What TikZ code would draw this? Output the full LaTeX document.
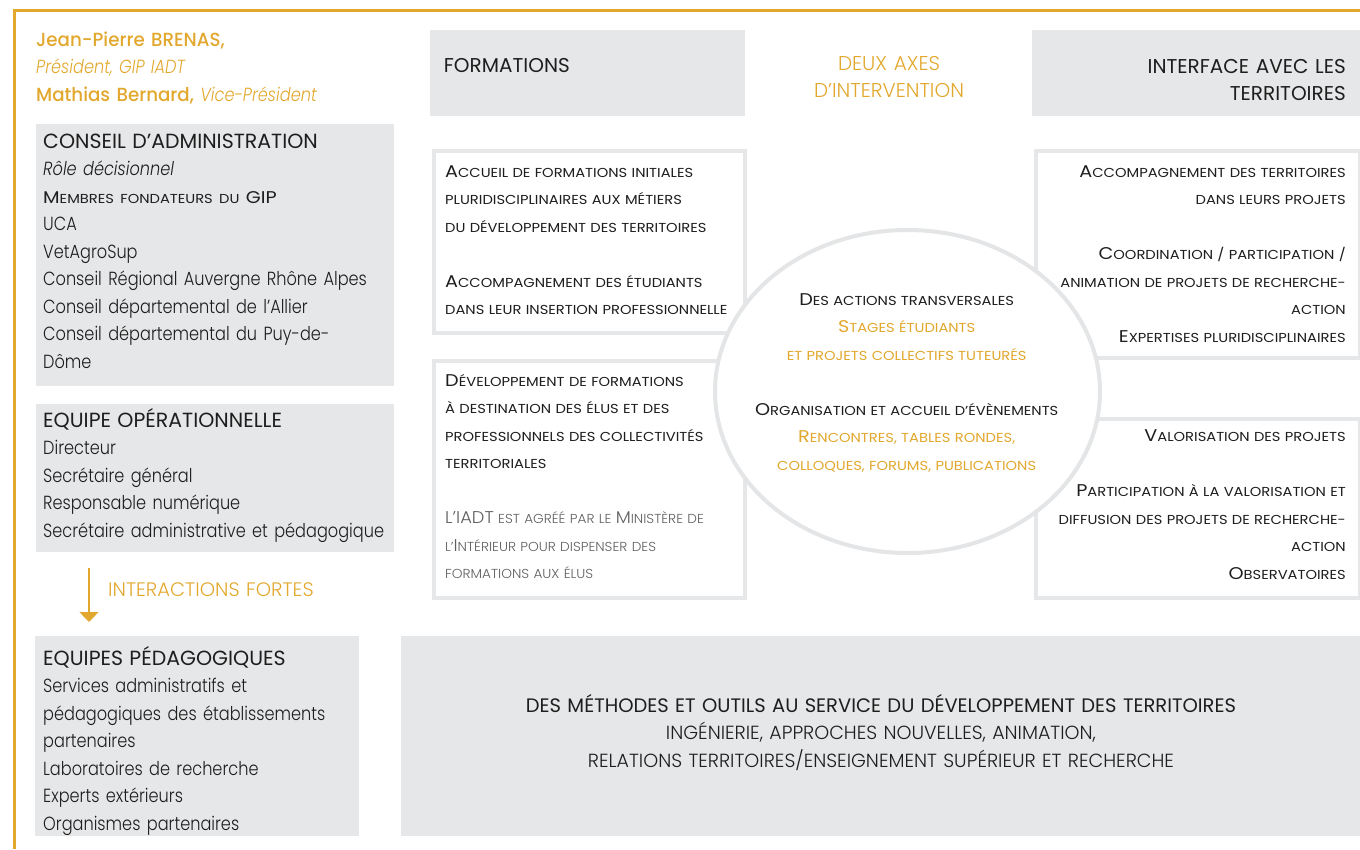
\documentclass[tikz,border=0pt]{standalone}
\usepackage{fontspec}
\setmainfont{Poppins}[UprightFont=* Light, ItalicFont=* Light Italic, BoldFont=* Medium, FakeStretch=0.85]
\newfontfamily\regfont{Poppins}[FakeStretch=1.0]
\newfontfamily\scfont{Poppins}[FakeStretch=1.13]
\newfontfamily\medfont{Poppins}[UprightFont=* Medium, FakeStretch=0.96]
\newfontfamily\lightcaps{Poppins}[UprightFont=* Light, FakeStretch=1.0]
\newfontfamily\lightsc{Poppins}[UprightFont=* Light, FakeStretch=1.05]
\usepackage{tikz}
\usetikzlibrary{shapes.geometric,arrows.meta}

\definecolor{gold}{RGB}{226,168,46}
\definecolor{boxgrey}{RGB}{230,231,232}
\definecolor{ringgrey}{RGB}{228,229,230}
\definecolor{ink}{RGB}{30,30,30}
\definecolor{softgrey}{RGB}{95,95,95}

\newcommand\bodysize{\fontsize{19}{27.5}\selectfont}
\newcommand\titlesize{\fontsize{20.5}{27.5}\selectfont}
\newcommand\headsize{\fontsize{20}{27.5}\selectfont}
\newcommand\scbig{\fontsize{17}{27.5}\selectfont}
\newcommand\scsmall{\fontsize{13}{27.5}\selectfont}
% fake small caps
\newcommand\sca[2]{{\scbig #1}{\scsmall\MakeUppercase{#2}}}
\newcommand\scl[1]{{\scsmall\MakeUppercase{#1}}}

\begin{document}
\begin{tikzpicture}[x=1pt,y=-1pt,
  greybox/.style={fill=boxgrey,draw=none,inner sep=0pt,anchor=north west},
  framebox/.style={draw=boxgrey,line width=4pt,fill=white,inner sep=0pt,anchor=north west},
  lefttext/.style={anchor=base west,inner sep=0pt,align=left,text width=500pt},
  righttext/.style={anchor=base east,inner sep=0pt,align=right,text width=500pt},
  midtext/.style={anchor=base,inner sep=0pt,align=center,text width=800pt}]
\useasboundingbox (0,0) rectangle (1360,849);
\draw[gold,line width=3pt] (1360,10.5) -| (14.7,849);

% left column
\node[lefttext,font=\bodysize,text=gold] (president) at (36,46)
  {{\medfont Jean-Pierre BRENAS,}\\
   \textit{Président, GIP IADT}\\
   {\medfont Mathias Bernard,} \textit{Vice-Président}};

\node[greybox,minimum width=358pt,minimum height=262pt] (conseil) at (36,124) {};
\node[greybox,minimum width=358pt,minimum height=148pt] (equipe) at (36,404) {};
\node[greybox,minimum width=324pt,minimum height=200pt] (pedago) at (35,636) {};

\node[lefttext,font=\bodysize,text=ink] (conseiltxt) at (43,148)
  {{\regfont\titlesize CONSEIL D’ADMINISTRATION}\\
   \textit{Rôle décisionnel}\\
   {\scfont\sca{M}{embres fondateurs du }{\scbig GIP}}\\
   UCA\\
   VetAgroSup\\
   Conseil Régional Auvergne Rhône Alpes\\
   Conseil départemental de l’Allier\\
   Conseil départemental du Puy-de-\\
   Dôme};

\node[lefttext,font=\bodysize,text=ink] (equipetxt) at (43,427)
  {{\regfont\titlesize EQUIPE OPÉRATIONNELLE}\\
   Directeur\\
   Secrétaire général\\
   Responsable numérique\\
   Secrétaire administrative et pédagogique};

\coordinate (linktop) at (89,568);
\coordinate (linkend) at (89,622);
\draw[gold,line width=1.2pt,-{Triangle[length=10pt,width=19pt]}] (linktop) -- (linkend);
\node[lefttext,font=\lightcaps\fontsize{19.5}{27.5}\selectfont,text=gold] (linklabel) at (108,596) {INTERACTIONS FORTES};

\node[lefttext,font=\bodysize,text=ink] (pedagotxt) at (43,665)
  {{\regfont\titlesize EQUIPES PÉDAGOGIQUES}\\
   Services administratifs et\\
   pédagogiques des établissements\\
   partenaires\\
   Laboratoires de recherche\\
   Experts extérieurs\\
   Organismes partenaires};

% headers
\node[greybox,minimum width=315pt,minimum height=86pt] (formhead) at (430,30) {};
\node[greybox,minimum width=328pt,minimum height=86pt] (terrhead) at (1032,30) {};
\node[lefttext,font=\regfont\headsize,text=ink] (formtitle) at (443.7,72.7) {FORMATIONS};
\node[midtext,font=\lightcaps\headsize,text=gold] (axestitle) at (889,70) {DEUX AXES\\ D’INTERVENTION};
\node[righttext,font=\regfont\headsize,text=ink] (terrtitle) at (1346,73.3) {INTERFACE AVEC LES\\ TERRITOIRES};

% framed boxes and ring
\node[framebox,minimum width=311pt,minimum height=182pt] (form1) at (432,149) {};
\node[framebox,minimum width=311pt,minimum height=237pt] (form2) at (432,359) {};
\node[framebox,minimum width=324pt,minimum height=207pt] (terr1) at (1034,149) {};
\node[framebox,minimum width=324pt,minimum height=179pt] (terr2) at (1034,417) {};
\node[ellipse,draw=ringgrey,line width=4pt,fill=white,inner sep=0pt,
  minimum width=385pt,minimum height=323pt] (axes) at (907.5,391.5) {};

\node[lefttext,font=\scfont\scsmall,text=ink] (form1txt) at (445,177)
  {\sca{A}{ccueil de formations initiales}\\
   \scl{pluridisciplinaires aux métiers}\\
   \scl{du développement des territoires}\\[27.5pt]
   \sca{A}{ccompagnement des étudiants}\\
   \scl{dans leur insertion professionnelle}};

\node[lefttext,font=\scfont\scsmall,text=ink] (form2txt) at (445,386)
  {\sca{D}{éveloppement de formations}\\
   \scl{à destination des élus et des}\\
   \scl{professionnels des collectivités}\\
   \scl{territoriales}\\[27.5pt]
   {\lightsc\color{softgrey}\sca{L’IADT}{ est agréé par le }\sca{M}{inistère de}}\\
   {\lightsc\color{softgrey}\scl{l’}\sca{I}{ntérieur pour dispenser des}}\\
   {\lightsc\color{softgrey}\scl{formations aux élus}}};

\node[midtext,font=\scfont\scsmall,text=ink] (axestxt) at (906.7,305)
  {\sca{D}{es actions transversales}\\
   {\color{gold}\sca{S}{tages étudiants}}\\
   {\color{gold}\scl{et projets collectifs tuteurés}}\\[27.5pt]
   \sca{O}{rganisation et accueil d’évènements}\\
   {\color{gold}\sca{R}{encontres, tables rondes,}}\\
   {\color{gold}\scl{colloques, forums, publications}}};

\node[righttext,font=\scfont\scsmall,text=ink] (terr1txt) at (1346,177)
  {\sca{A}{ccompagnement des territoires}\\
   \scl{dans leurs projets}\\[27.5pt]
   \sca{C}{oordination / participation /}\\
   \scl{animation de projets de recherche-}\\
   \scl{action}\\
   \sca{E}{xpertises pluridisciplinaires}};

\node[righttext,font=\scfont\scsmall,text=ink] (terr2txt) at (1346,441.5)
  {\sca{V}{alorisation des projets}\\[27.5pt]
   \sca{P}{articipation à la valorisation et}\\
   \scl{diffusion des projets de recherche-}\\
   \scl{action}\\
   \sca{O}{bservatoires}};

% bottom band
\node[greybox,minimum width=959pt,minimum height=200pt] (methodes) at (401,636) {};
\node[midtext,font=\lightcaps\bodysize,text=ink] (methodestxt) at (881,712)
  {{\regfont\fontsize{19.5}{27.5}\selectfont DES MÉTHODES ET OUTILS AU SERVICE DU DÉVELOPPEMENT DES TERRITOIRES}\\
   INGÉNIERIE, APPROCHES NOUVELLES, ANIMATION,\\
   RELATIONS TERRITOIRES/ENSEIGNEMENT SUPÉRIEUR ET RECHERCHE};
\end{tikzpicture}
\end{document}
